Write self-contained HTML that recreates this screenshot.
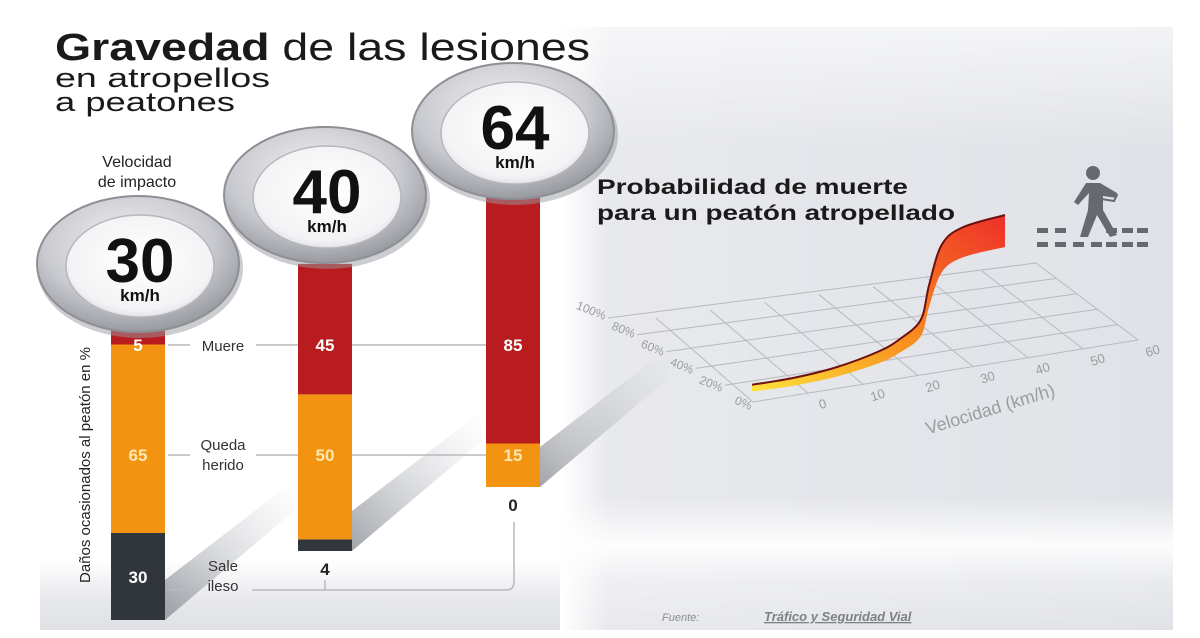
<!DOCTYPE html>
<html><head><meta charset="utf-8">
<style>
html,body{margin:0;padding:0;background:#fff;}
#wrap{position:relative;width:1200px;height:638px;overflow:hidden;font-family:"Liberation Sans",sans-serif;}
svg text{font-family:"Liberation Sans",sans-serif;}
</style></head>
<body>
<div id="wrap">
<svg id="svg" width="1200" height="638" viewBox="0 0 1200 638">
<defs>
<linearGradient id="panelG" x1="0" y1="0" x2="1" y2="0">
<stop offset="0" stop-color="#ffffff"/><stop offset="0.08" stop-color="#e8e9ed"/><stop offset="1" stop-color="#e0e2e7"/>
</linearGradient>
<linearGradient id="panelV" x1="0" y1="0" x2="0" y2="1">
<stop offset="0" stop-color="#fff" stop-opacity="0.6"/><stop offset="0.2" stop-color="#fff" stop-opacity="0"/>
<stop offset="0.78" stop-color="#fff" stop-opacity="0"/><stop offset="0.86" stop-color="#fff" stop-opacity="0.9"/>
<stop offset="0.92" stop-color="#fff" stop-opacity="0.3"/><stop offset="1" stop-color="#fff" stop-opacity="0"/>
</linearGradient>
<linearGradient id="botG" x1="0" y1="0" x2="0" y2="1">
<stop offset="0" stop-color="#fff"/><stop offset="0.6" stop-color="#e6e7eb"/><stop offset="1" stop-color="#dfe1e5"/>
</linearGradient>
<radialGradient id="ringG" cx="0.45" cy="0.35" r="0.7">
<stop offset="0" stop-color="#f2f2f4"/><stop offset="0.6" stop-color="#c9cacf"/><stop offset="1" stop-color="#8e9096"/>
</radialGradient>
<radialGradient id="innerG" cx="0.5" cy="0.45" r="0.6">
<stop offset="0" stop-color="#ffffff"/><stop offset="0.8" stop-color="#f3f3f5"/><stop offset="1" stop-color="#d8d9dd"/>
</radialGradient>
<linearGradient id="ribG" x1="0" y1="1" x2="1" y2="0">
<stop offset="0" stop-color="#ffe23a"/><stop offset="0.45" stop-color="#f7901e"/><stop offset="1" stop-color="#ee2f2a"/>
</linearGradient>
<linearGradient id="shadowG" x1="0" y1="1" x2="1" y2="0">
<stop offset="0" stop-color="#8a8d94" stop-opacity="0.8"/><stop offset="1" stop-color="#d0d2d7" stop-opacity="0"/>
</linearGradient>
</defs>

<rect x="560" y="27" width="613" height="603" fill="url(#panelG)"/>
<rect x="560" y="27" width="613" height="603" fill="url(#panelV)"/>
<rect x="40" y="560" width="520" height="70" fill="url(#botG)"/>

<text x="55" y="60" font-size="38" fill="#1a1a1a" textLength="535" lengthAdjust="spacingAndGlyphs"><tspan font-weight="bold">Gravedad</tspan> de las lesiones</text>
<text x="55" y="87" font-size="27" fill="#1a1a1a" textLength="215" lengthAdjust="spacingAndGlyphs">en atropellos</text>
<text x="55" y="111" font-size="27" fill="#1a1a1a" textLength="180" lengthAdjust="spacingAndGlyphs">a peatones</text>
<text x="137" y="167" font-size="16" text-anchor="middle" fill="#222">Velocidad</text>
<text x="137" y="187" font-size="16" text-anchor="middle" fill="#222">de impacto</text>

<g id="bars"></g>
<g id="guides"></g>
<g id="circles"></g>

<text transform="translate(90,465) rotate(-90)" font-size="15" text-anchor="middle" fill="#222">Daños ocasionados al peatón en %</text>

<text x="597" y="194" font-size="21" font-weight="bold" fill="#1a1a1a" textLength="311" lengthAdjust="spacingAndGlyphs">Probabilidad de muerte</text>
<text x="597" y="220" font-size="21" font-weight="bold" fill="#1a1a1a" textLength="358" lengthAdjust="spacingAndGlyphs">para un peatón atropellado</text>
<g id="grid"></g>
<g id="curve"></g>

<g fill="#666a70">
<circle cx="1093" cy="173" r="7"/>
<path d="M1086,183 L1100,183 L1117,193 L1117,198 L1103,196 L1103,210 L1117,235 L1110,237 L1097,215 L1088,237 L1080,237 L1088,210 L1089,193 L1078,205 L1074,202 Z"/>
<path d="M1100,185 L1117,195 L1114,201 L1095,198 Z" fill="none" stroke="#666a70" stroke-width="2"/>
</g>
<g id="dashes"></g>

<text x="662" y="621" font-size="11" font-style="italic" fill="#8a8c90">Fuente:</text>
<text x="764" y="621" font-size="13" font-style="italic" font-weight="bold" fill="#7e8086" text-decoration="underline">Tráfico y Seguridad Vial</text>
</svg>
</div>
<script>
// ---- Bar data ----
const speeds = ["30","40","64"];
const dies = [5, 45, 85];
const injured = [65, 50, 15];
const unharmed = [30, 4, 0];
const categories = ["Muere","Queda herido","Sale ileso"];
// ---- Probability curve data ----
const velocity = [0, 10, 20, 30, 35, 40, 42, 45, 50, 60];
const probability = [3, 7, 13, 22, 29, 40, 60, 83, 93, 100];
const pctTicks = ["0%","20%","40%","60%","80%","100%"];
const velTicks = ["0","10","20","30","40","50","60"];

const NS = "http://www.w3.org/2000/svg";
function mk(tag, attrs, parent){const e=document.createElementNS(NS,tag);for(const k in attrs)e.setAttribute(k,attrs[k]);parent.appendChild(e);return e;}

const barX = [111, 298, 486], barW = 54, barBottom = [620, 551, 487];
const pxPerUnit = 2.9;
function yScale(i, cum){ return barBottom[i] - cum * pxPerUnit; }
const barsG = document.getElementById('bars');
const circlesG = document.getElementById('circles');
const colors = ["#b81c1e", "#f29312", "#30363b"];
for (let i = 0; i < speeds.length; i++) {
  const vals = [unharmed[i], injured[i], dies[i]];
  const cols = [colors[2], colors[1], colors[0]];
  const sh = mk('polygon', {points:`${barX[i]+barW},${barBottom[i]} ${barX[i]+barW+130},${barBottom[i]-110} ${barX[i]+barW+130},${barBottom[i]-140} ${barX[i]+barW},${barBottom[i]-40}`, fill:'url(#shadowG)'}, barsG);
  
  
  let cum = 0;
  vals.forEach((v, j) => {
    const y0 = yScale(i, cum), y1 = yScale(i, cum + v);
    const r = mk('rect', {x:barX[i], y:y1, width:barW, height:Math.max(0, y0-y1), fill:cols[j]}, barsG);
    
    
    cum += v;
  });
  const t1 = mk('text', {x:barX[i]+barW/2, y:351, 'font-size':17, 'font-weight':'bold', 'text-anchor':'middle', fill:'#fff'}, barsG);
  t1.textContent = dies[i];
  
  
  const t2 = mk('text', {x:barX[i]+barW/2, y:461, 'font-size':17, 'font-weight':'bold', 'text-anchor':'middle', fill:'#ffe9b0'}, barsG);
  t2.textContent = injured[i];
  
  
  const t3 = mk('text', {x:barX[i]+barW/2, y: i==0 ? 583 : barBottom[i] + 24, 'font-size':17, 'font-weight':'bold', 'text-anchor':'middle', fill: i==0 ? '#fff' : '#222'}, barsG);
  t3.textContent = unharmed[i];
  
  
  const bx = barX[i] + barW/2, by = yScale(i, 100) - 66;
  const g = mk('g', {}, circlesG);
  
  
  mk('ellipse', {cx:bx+2, cy:by+4, rx:103, ry:70, fill:'#9a9ca2', opacity:0.5}, g);
  mk('ellipse', {cx:bx, cy:by, rx:101, ry:68, fill:'url(#ringG)', stroke:'#8d8f95', 'stroke-width':2}, g);
  mk('ellipse', {cx:bx+2, cy:by+2, rx:74, ry:51, fill:'url(#innerG)', stroke:'#b5b7bc', 'stroke-width':1.5}, g);
  const n = mk('text', {x:bx+2, y:by+18, 'font-size':62, 'font-weight':'bold', 'text-anchor':'middle', fill:'#111'}, g);
  n.textContent = speeds[i];
  
  
  const u = mk('text', {x:bx+2, y:by+37, 'font-size':17, 'font-weight':'bold', 'text-anchor':'middle', fill:'#111'}, g);
  u.textContent = 'km/h';
  
  
}
const guidesG = document.getElementById('guides');
const gl = '#b8b9bd';
[[168,190,345],[256,298,345],[352,486,345],[168,190,455],[256,298,455],[352,486,455]].forEach(a=>{
  const l = mk('line', {x1:a[0], y1:a[2], x2:a[1], y2:a[2], stroke:gl, 'stroke-width':1.5}, guidesG);
  
  
});
const br = mk('path', {d:'M168,590 L190,590 M252,590 L506,590 Q514,590 514,582 L514,522 M325,590 L325,580', stroke:gl, 'stroke-width':1.5, fill:'none'}, guidesG);


const catPos = [[223,351,[categories[0]]],[223,450,["Queda","herido"]],[223,571,["Sale","ileso"]]];
catPos.forEach((c,k)=>{
  c[2].forEach((s,m)=>{
    const t = mk('text', {x:c[0], y:c[1]+m*20, 'font-size':15, 'text-anchor':'middle', fill:'#333'}, guidesG);
    t.textContent = s;
    
    
  });
});

// perspective floor grid (bilinear corners)
const BL = [753, 402], BR = [1138, 340], TL = [656, 318], TR = [1036, 263];
function proj(v, p){
  const a = (v + 10) / 70, b = p / 100;
  const x = (1-a)*(1-b)*BL[0] + a*(1-b)*BR[0] + (1-a)*b*TL[0] + a*b*TR[0];
  const y = (1-a)*(1-b)*BL[1] + a*(1-b)*BR[1] + (1-a)*b*TL[1] + a*b*TR[1];
  return [x, y];
}
// percent label axis (leaning left)
const LB = [750, 410], LT = [604, 320];
function labelPos(p){ const b = p/100; return [LB[0] + (LT[0]-LB[0])*b, LB[1] + (LT[1]-LB[1])*b]; }
const gridG = document.getElementById('grid');
for (let k = 0; k < pctTicks.length; k++) {
  const p = k*20; const a = proj(-10,p), b = proj(60,p);
  const lp = labelPos(p);
  const l = mk('line', {x1:Math.min(a[0], lp[0]+4), y1:a[1], x2:b[0], y2:b[1], stroke:'#b7b9be', 'stroke-width':1}, gridG);
  
  
  const t = mk('text', {x:lp[0], y:lp[1], 'font-size':12, 'text-anchor':'end', fill:'#9a9ca0', transform:`rotate(22 ${lp[0]} ${lp[1]})`}, gridG);
  t.textContent = pctTicks[k];
  
  
}
for (let v = -10; v <= 60; v += 10) {
  const a = proj(v,0), b = proj(v,100);
  const l = mk('line', {x1:a[0], y1:a[1], x2:b[0], y2:b[1], stroke:'#b7b9be', 'stroke-width':1}, gridG);
  
  
}
velTicks.forEach((s)=>{
  const a = proj(Number(s), 0);
  const lx = a[0] + 16, ly = a[1] + 15;
  const t = mk('text', {x:lx, y:ly, 'font-size':13, 'text-anchor':'middle', fill:'#9a9ca0', transform:`rotate(-18 ${lx} ${ly})`}, gridG);
  t.textContent = s;
  
  
});
const xt = mk('text', {x:992, y:415, 'font-size':18, 'text-anchor':'middle', fill:'#9a9ca0', transform:'rotate(-17 992 415)'}, gridG);
xt.textContent = 'Velocidad (km/h)';



function curveX(v){ return 752 + v/60*253; }
function curveY(p){ return 390 - p/100*175; }
const curveG = document.getElementById('curve');
const topPts = velocity.map((v,i)=>[curveX(v), curveY(probability[i])]);
const botPts = velocity.map((v,i)=>[curveX(v), curveY(probability[i]) + 6 + probability[i]*0.26]);
function smooth(pts){
  let d = `M${pts[0][0]},${pts[0][1]}`;
  for (let i=1;i<pts.length;i++){
    const p0=pts[Math.max(0,i-2)],p1=pts[i-1],p2=pts[i],p3=pts[Math.min(pts.length-1,i+1)];
    const c1=[p1[0]+(p2[0]-p0[0])/6,p1[1]+(p2[1]-p0[1])/6],c2=[p2[0]-(p3[0]-p1[0])/6,p2[1]-(p3[1]-p1[1])/6];
    d+=` C${c1[0]},${c1[1]} ${c2[0]},${c2[1]} ${p2[0]},${p2[1]}`;
  }
  return d;
}
const rb = smooth(botPts.slice().reverse()).replace(/^M/,'L');
const rib = mk('path', {d: smooth(topPts) + ' ' + rb + ' Z', fill:'url(#ribG)'}, curveG);


const edge = mk('path', {d: smooth(topPts), fill:'none', stroke:'#6e1010', 'stroke-width':2}, curveG);



const dashesG = document.getElementById('dashes');
[[228,[1037,1055,1106,1122,1137]],[242,[1037,1055,1073,1091,1106,1122,1137]]].forEach(r=>{
  r[1].forEach(x=>{
    const d = mk('rect', {x:x, y:r[0], width:11, height:5, fill:'#666a70'}, dashesG);
    
    
  });
});
</script>
</body></html>
